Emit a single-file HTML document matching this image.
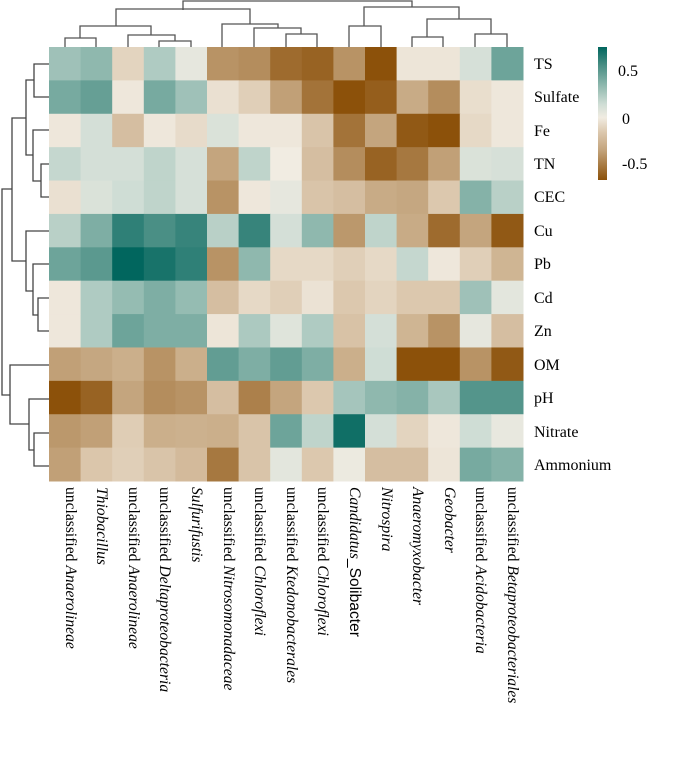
<!DOCTYPE html>
<html><head><meta charset="utf-8">
<style>
html,body{margin:0;padding:0;background:#fff;}
svg{display:block;}
text{font-family:"Liberation Serif",serif;fill:#000;}
</style></head>
<body>
<svg id="s" width="676" height="778" viewBox="0 0 676 778" xmlns="http://www.w3.org/2000/svg">
<defs>
<linearGradient id="cb" x1="0" y1="0" x2="0" y2="1">
<stop offset="0" stop-color="#01665e"/>
<stop offset="0.14" stop-color="#4a8f85"/>
<stop offset="0.29" stop-color="#8fb8ae"/>
<stop offset="0.43" stop-color="#cfddd5"/>
<stop offset="0.53" stop-color="#f1ece2"/>
<stop offset="0.64" stop-color="#dcc8ae"/>
<stop offset="0.77" stop-color="#c4a57e"/>
<stop offset="1" stop-color="#8c510a"/>
</linearGradient>
</defs>
<g id="cells"></g>
<g stroke="#555" stroke-width="1.3" fill="none">
<path d="M183,10 V1 H412 V7"/>
<path d="M116,26 V9 H250 V24"/>
<path d="M80,38 V26 H151 V35"/>
<path d="M65,47 V38 H96 V47"/>
<path d="M128,47 V35 H175 V41"/>
<path d="M159,47 V41 H191 V47"/>
<path d="M222,47 V24 H278 V28"/>
<path d="M254,47 V28 H301 V34"/>
<path d="M286,47 V34 H317 V47"/>
<path d="M364,26 V7 H459 V19"/>
<path d="M349,47 V26 H381 V47"/>
<path d="M427,37 V19 H491 V34"/>
<path d="M412,47 V37 H443 V47"/>
<path d="M475,47 V34 H507 V47"/>
</g>
<g stroke="#444" stroke-width="1.3" fill="none">
<path d="M49,64 H34 V97 H49"/>
<path d="M34,80 H26 V155 H33"/>
<path d="M49,130 H33 V181 H41"/>
<path d="M49,164 H41 V197 H49"/>
<path d="M26,118 H12 V261 H26"/>
<path d="M49,231 H26 V291 H33"/>
<path d="M49,264 H33 V315 H38"/>
<path d="M49,298 H38 V331 H49"/>
<path d="M12,189 H2 V395 H10"/>
<path d="M49,365 H10 V424 H29"/>
<path d="M49,399 H29 V450 H34"/>
<path d="M49,433 H34 V466 H49"/>
</g>
<rect x="598" y="47" width="9" height="133" fill="url(#cb)"/>
<text x="618" y="76" font-size="16">0.5</text>
<text x="622" y="124" font-size="16">0</text>
<text x="622" y="169" font-size="16">-0.5</text>
<g font-size="16">
<text x="534" y="69">TS</text>
<text x="534" y="102">Sulfate</text>
<text x="534" y="136">Fe</text>
<text x="534" y="169">TN</text>
<text x="534" y="202">CEC</text>
<text x="534" y="236">Cu</text>
<text x="534" y="269">Pb</text>
<text x="534" y="303">Cd</text>
<text x="534" y="336">Zn</text>
<text x="534" y="370">OM</text>
<text x="534" y="403">pH</text>
<text x="534" y="437">Nitrate</text>
<text x="534" y="470">Ammonium</text>
</g>
<g font-size="15.6">
<text transform="translate(66,487) rotate(90)">unclassified <tspan font-style="italic">Anaerolineae</tspan></text>
<text transform="translate(97,487) rotate(90)"><tspan font-style="italic">Thiobacillus</tspan></text>
<text transform="translate(129,487) rotate(90)">unclassified <tspan font-style="italic">Anaerolineae</tspan></text>
<text transform="translate(160,487) rotate(90)">unclassified <tspan font-style="italic">Deltaproteobacteria</tspan></text>
<text transform="translate(192,487) rotate(90)"><tspan font-style="italic">Sulfurifustis</tspan></text>
<text transform="translate(224,487) rotate(90)">unclassified <tspan font-style="italic">Nitrosomonadaceae</tspan></text>
<text transform="translate(255,487) rotate(90)">unclassified <tspan font-style="italic">Chloroflexi</tspan></text>
<text transform="translate(287,487) rotate(90)">unclassified <tspan font-style="italic">Ktedonobacterales</tspan></text>
<text transform="translate(318,487) rotate(90)">unclassified <tspan font-style="italic">Chloroflexi</tspan></text>
<text transform="translate(350,487) rotate(90)"><tspan font-style="italic">Candidatus</tspan><tspan font-family="Liberation Sans, sans-serif">_Solibacter</tspan></text>
<text transform="translate(382,487) rotate(90)"><tspan font-style="italic">Nitrospira</tspan></text>
<text transform="translate(413,487) rotate(90)"><tspan font-style="italic">Anaeromyxobacter</tspan></text>
<text transform="translate(445,487) rotate(90)"><tspan font-style="italic">Geobacter</tspan></text>
<text transform="translate(476,487) rotate(90)">unclassified <tspan font-style="italic">Acidobacteria</tspan></text>
<text transform="translate(508,487) rotate(90)">unclassified <tspan font-style="italic">Betaproteobacteriales</tspan></text>
</g>
</svg>
<script>
var V=[
[0.3,0.35,-0.1,0.25,0.05,-0.4,-0.42,-0.55,-0.58,-0.4,-0.72,-0.03,-0.03,0.12,0.45],
[0.42,0.47,-0.02,0.42,0.3,-0.05,-0.12,-0.35,-0.52,-0.72,-0.6,-0.3,-0.42,-0.06,-0.02],
[-0.02,0.13,-0.2,-0.02,-0.07,0.1,-0.02,-0.02,-0.17,-0.52,-0.33,-0.62,-0.72,-0.08,-0.02],
[0.18,0.13,0.13,0.2,0.12,-0.33,0.2,0.0,-0.2,-0.42,-0.58,-0.5,-0.35,0.1,0.12],
[-0.05,0.1,0.15,0.2,0.12,-0.4,-0.02,0.05,-0.17,-0.2,-0.3,-0.32,-0.15,0.38,0.22],
[0.22,0.4,0.62,0.55,0.6,0.22,0.6,0.13,0.35,-0.38,0.2,-0.3,-0.55,-0.33,-0.62],
[0.45,0.5,0.75,0.68,0.62,-0.4,0.35,-0.08,-0.08,-0.12,-0.08,0.18,-0.02,-0.12,-0.25],
[-0.02,0.25,0.33,0.4,0.33,-0.2,-0.08,-0.12,-0.04,-0.15,-0.1,-0.15,-0.15,0.3,0.06],
[-0.02,0.25,0.45,0.4,0.4,-0.03,0.26,0.08,0.25,-0.18,0.13,-0.25,-0.4,0.05,-0.2],
[-0.35,-0.32,-0.28,-0.4,-0.28,0.48,0.4,0.48,0.4,-0.28,0.15,-0.75,-0.75,-0.4,-0.62],
[-0.72,-0.58,-0.33,-0.42,-0.4,-0.2,-0.47,-0.33,-0.15,0.28,0.35,0.38,0.27,0.52,0.52],
[-0.38,-0.35,-0.13,-0.28,-0.27,-0.28,-0.17,0.45,0.2,0.7,0.13,-0.1,-0.02,0.15,0.04],
[-0.35,-0.16,-0.12,-0.17,-0.22,-0.5,-0.17,0.06,-0.15,0.02,-0.2,-0.2,-0.03,0.42,0.38]];
var S=[[-0.65,[140,81,10]],[-0.33,[196,165,126]],[-0.15,[220,200,174]],[0,[241,236,226]],[0.15,[207,221,213]],[0.35,[143,184,174]],[0.55,[74,143,133]],[0.74,[1,102,94]]];
function col(v){if(v<=S[0][0])return S[0][1];if(v>=S[S.length-1][0])return S[S.length-1][1];
for(var i=0;i<S.length-1;i++){if(v<=S[i+1][0]){var t=(v-S[i][0])/(S[i+1][0]-S[i][0]);return S[i][1].map(function(a,k){return Math.round(a+(S[i+1][1][k]-a)*t);});}}}
var g=document.getElementById('cells'),ns='http://www.w3.org/2000/svg';
var x0=49,y0=47,cw=(523-49)/15,rh=(481-47)/13;
for(var r=0;r<13;r++)for(var c=0;c<15;c++){var e=document.createElementNS(ns,'rect');
var x=x0+c*cw,y=y0+r*rh;e.setAttribute('x',x.toFixed(2));e.setAttribute('y',y.toFixed(2));
e.setAttribute('width',(cw+0.5).toFixed(2));e.setAttribute('height',(rh+0.5).toFixed(2));
var k=col(V[r][c]);e.setAttribute('fill','rgb('+k.join(',')+')');g.appendChild(e);}
</script>
</body></html>
